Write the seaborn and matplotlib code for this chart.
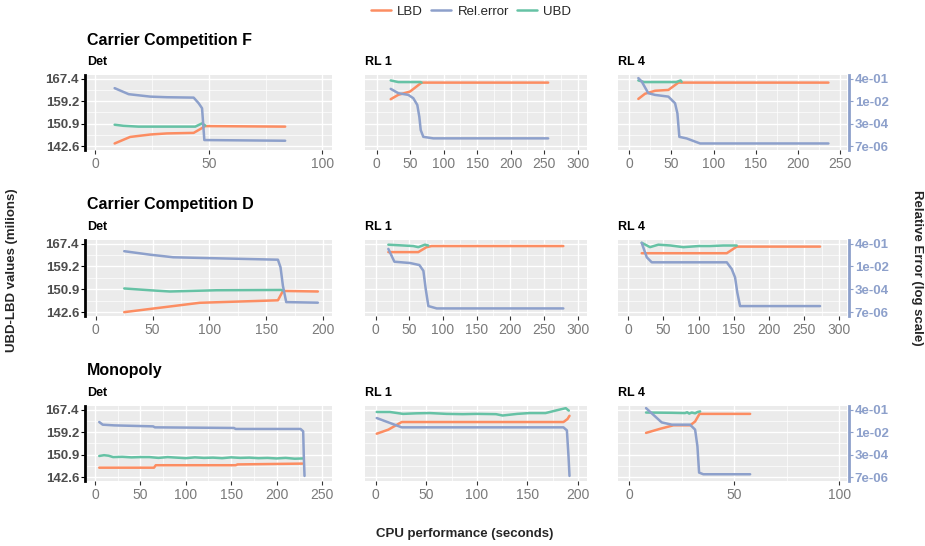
import matplotlib
matplotlib.use("Agg")
import matplotlib.pyplot as plt
import seaborn as sns
import numpy as np
from matplotlib.lines import Line2D
from matplotlib.ticker import NullLocator, FixedLocator, FixedFormatter

# ---------------- data ----------------
ROW_TITLES = ["Carrier Competition F", "Carrier Competition D", "Monopoly"]
COL_TITLES = ["Det", "RL 1", "RL 4"]
SERIES = ["LBD", "Rel.error", "UBD"]
Y_TICKS = [142.6, 150.9, 159.2, 167.4]
ERR_BOTTOM = 7e-06   # rel. error shown at the 142.6 line
ERR_TOP = 4e-01      # rel. error shown at the 167.4 line

# Carrier Competition F
F_DET_X_LBD = [8.5, 15.3, 24.2, 31.5, 43.3, 46.2, 48.4, 83.6]
F_DET_LBD = [143.6, 146.0, 146.9, 147.3, 147.5, 148.9, 150.0, 149.8]
F_DET_X_UBD = [8.5, 12.4, 19.0, 44.0, 47.0, 48.4]
F_DET_UBD = [150.5, 150.1, 149.8, 149.8, 151.0, 150.2]
F_DET_X_ERR = [8.5, 14.7, 24.2, 31.5, 43.3, 45.5, 47.0, 48.0, 83.6]
F_DET_ERR = [0.0875, 0.0328, 0.0221, 0.0200, 0.0188, 0.00753, 0.00333, 1.9e-5, 1.7e-5]

F_RL1_X_LBD = [20.9, 32.2, 49.7, 67.0, 256.0]
F_RL1_LBD = [159.9, 161.5, 162.7, 166.0, 166.0]
F_RL1_X_UBD = [20.9, 32.2, 65.2, 67.0]
F_RL1_UBD = [166.8, 166.2, 166.2, 166.0]
F_RL1_X_ERR = [20.9, 32.2, 47.2, 54.6, 60.6, 63.6, 65.7, 69.6, 84.5, 256.0]
F_RL1_ERR = [0.078, 0.0387, 0.0292, 0.0171, 0.0057, 8.4e-4, 9.6e-5, 3.2e-5, 2.5e-5, 2.5e-5]

F_RL4_X_LBD = [10.7, 18.6, 30.5, 46.3, 58.2, 236.0]
F_RL4_LBD = [160.0, 161.9, 163.0, 163.3, 166.0, 166.0]
F_RL4_X_UBD = [10.7, 17.5, 55.7, 60.8, 62.0]
F_RL4_UBD = [166.8, 166.2, 166.2, 166.8, 166.3]
F_RL4_X_ERR = [10.7, 14.7, 22.5, 30.5, 46.3, 54.2, 57.0, 59.3, 68.0, 83.9, 236.0]
F_RL4_ERR = [0.449, 0.257, 0.0387, 0.0292, 0.0221, 0.00753, 0.00147, 3.2e-5, 2.47e-5, 1.09e-5, 1.09e-5]

# Carrier Competition D
D_DET_X_LBD = [25.1, 91.5, 160.2, 164.6, 195.3]
D_DET_LBD = [142.6, 146.0, 146.9, 150.3, 150.1]
D_DET_X_UBD = [25.1, 47.6, 65.2, 106.1, 163.2, 165.0]
D_DET_UBD = [151.2, 150.55, 150.1, 150.55, 150.66, 150.4]
D_DET_X_ERR = [25.1, 47.6, 68.1, 106.1, 160.2, 162.5, 164.6, 167.5, 195.3]
D_DET_ERR = [0.123, 0.0708, 0.0465, 0.0395, 0.0315, 0.00922, 4.7e-4, 3.5e-5, 3.2e-5]

D_RL1_X_LBD = [18.7, 63.2, 75.5, 83.0, 278.8]
D_RL1_LBD = [164.4, 164.4, 166.2, 166.6, 166.6]
D_RL1_X_UBD = [18.7, 55.8, 63.2, 73.1, 78.0]
D_RL1_UBD = [167.1, 166.6, 166.2, 167.1, 166.8]
D_RL1_X_ERR = [18.7, 27.7, 51.0, 64.8, 70.8, 74.3, 78.2, 90.6, 278.8]
D_RL1_ERR = [0.178, 0.0228, 0.0185, 0.0134, 0.0053, 2.75e-4, 1.86e-5, 1.27e-5, 1.27e-5]

D_RL4_X_LBD = [19.0, 140.0, 154.2, 272.7]
D_RL4_LBD = [164.0, 164.0, 166.4, 166.4]
D_RL4_X_UBD = [19.0, 30.8, 42.7, 60.0, 78.2, 100.0, 116.1, 135.0, 154.2]
D_RL4_UBD = [167.8, 166.2, 167.1, 166.8, 166.2, 166.6, 166.6, 166.8, 166.8]
D_RL4_X_ERR = [19.0, 26.2, 33.3, 140.0, 147.1, 151.8, 155.0, 158.9, 272.7]
D_RL4_ERR = [0.47, 0.0465, 0.0207, 0.0207, 0.007, 0.00183, 1.6e-4, 1.85e-5, 1.85e-5]

# Monopoly
M_DET_X_LBD = [4.7, 65.0, 67.0, 155.0, 157.0, 228.5]
M_DET_LBD = [146.1, 146.1, 147.0, 147.0, 147.3, 147.6]
M_DET_X_UBD = [4.7, 10, 15, 20, 30, 40, 50, 60, 70, 80, 90, 100, 110, 120, 130,
               140, 150, 160, 170, 180, 190, 200, 210, 220, 229]
M_DET_UBD = [150.4, 150.7, 150.5, 150.0, 150.1, 149.9, 150.0, 150.0, 149.7, 150.0,
             149.8, 149.6, 149.9, 149.7, 149.8, 149.6, 149.9, 149.7, 149.8, 149.6,
             149.7, 149.5, 149.7, 149.4, 149.5]
M_DET_X_ERR = [4.7, 8.5, 21.2, 64.0, 66.0, 153.0, 155.0, 226.4, 229.3, 230.0, 230.8]
M_DET_ERR = [0.055, 0.0357, 0.0318, 0.0271, 0.0231, 0.0209, 0.0178, 0.0178, 0.0121, 2.15e-4, 8.6e-6]

M_RL1_X_LBD = [1.0, 12.5, 25.7, 185.7, 189.7, 191.7]
M_RL1_LBD = [158.6, 160.1, 162.9, 162.9, 164.0, 165.2]
M_RL1_X_UBD = [1, 14, 27, 40, 53.5, 70, 86, 100, 119, 125.5, 140, 152, 168, 181, 188, 191]
M_RL1_UBD = [166.6, 166.6, 165.9, 166.1, 166.2, 165.9, 165.8, 165.9, 165.8, 165.3,
             165.9, 166.2, 166.2, 167.4, 168.0, 167.1]
M_RL1_X_ERR = [1.0, 25.7, 185.7, 189.1, 190.7, 191.7]
M_RL1_ERR = [0.105, 0.0231, 0.0231, 0.0142, 2.15e-4, 8.6e-6]

M_RL4_X_LBD = [7.95, 14.6, 21.0, 29.0, 31.3, 33.4, 57.5]
M_RL4_LBD = [158.9, 160.4, 161.7, 161.7, 163.1, 165.9, 165.9]
M_RL4_X_UBD = [7.95, 20.0, 26.5, 27.5, 28.5, 29.7, 31.3, 32.5, 33.7]
M_RL4_UBD = [166.4, 166.3, 166.2, 166.5, 166.0, 166.4, 166.1, 166.6, 166.8]
M_RL4_X_ERR = [7.95, 11.4, 15.4, 20.2, 28.9, 31.3, 32.4, 33.2, 35.2, 57.5]
M_RL4_ERR = [0.526, 0.179, 0.0516, 0.0357, 0.0357, 0.0159, 0.00108, 1.48e-5, 1.13e-5, 1.13e-5]

PANELS = [
    [(F_DET_X_LBD, F_DET_LBD, F_DET_X_ERR, F_DET_ERR, F_DET_X_UBD, F_DET_UBD),
     (F_RL1_X_LBD, F_RL1_LBD, F_RL1_X_ERR, F_RL1_ERR, F_RL1_X_UBD, F_RL1_UBD),
     (F_RL4_X_LBD, F_RL4_LBD, F_RL4_X_ERR, F_RL4_ERR, F_RL4_X_UBD, F_RL4_UBD)],
    [(D_DET_X_LBD, D_DET_LBD, D_DET_X_ERR, D_DET_ERR, D_DET_X_UBD, D_DET_UBD),
     (D_RL1_X_LBD, D_RL1_LBD, D_RL1_X_ERR, D_RL1_ERR, D_RL1_X_UBD, D_RL1_UBD),
     (D_RL4_X_LBD, D_RL4_LBD, D_RL4_X_ERR, D_RL4_ERR, D_RL4_X_UBD, D_RL4_UBD)],
    [(M_DET_X_LBD, M_DET_LBD, M_DET_X_ERR, M_DET_ERR, M_DET_X_UBD, M_DET_UBD),
     (M_RL1_X_LBD, M_RL1_LBD, M_RL1_X_ERR, M_RL1_ERR, M_RL1_X_UBD, M_RL1_UBD),
     (M_RL4_X_LBD, M_RL4_LBD, M_RL4_X_ERR, M_RL4_ERR, M_RL4_X_UBD, M_RL4_UBD)],
]

X_BREAKS = [
    [[0, 50, 100], [0, 50, 100, 150, 200, 250, 300], [0, 50, 100, 150, 200, 250]],
    [[0, 50, 100, 150, 200], [0, 50, 100, 150, 200, 250, 300], [0, 50, 100, 150, 200, 250, 300]],
    [[0, 50, 100, 150, 200, 250], [0, 50, 100, 150, 200], [0, 50, 100]],
]
X_LIMITS = [
    [(-3.8, 104.0), (-17.5, 314.0), (-13.4, 258.0)],
    [(-7.9, 207.3), (-16.0, 314.0), (-14.7, 311.0)],
    [(-9.1, 260.5), (-10.6, 209.0), (-5.4, 103.6)],
]

# ---------------- style ----------------
C_LBD, C_ERR, C_UBD = "#FC8D62", "#8DA0CB", "#66C2A5"
sns.set_theme(style="darkgrid", rc={"axes.facecolor": "#EBEBEB", "grid.color": "white"})
plt.rcParams["font.family"] = ["Liberation Sans", "DejaVu Sans"]

W, H = 925, 546
fig = plt.figure(figsize=(W / 100, H / 100), dpi=100)
fig.patch.set_facecolor("white")

COLS_PX = [(86.7, 331.5), (365.0, 587.0), (618.0, 847.0)]
ROWS_PX = [(75.0, 150.0), (240.0, 316.0), (406.0, 481.0)]
YLIM = (141.2, 168.8)

L0, L1 = np.log10(ERR_BOTTOM), np.log10(ERR_TOP)


def val_to_err(v):
    return 10 ** (L0 + (v - Y_TICKS[0]) * (L1 - L0) / (Y_TICKS[-1] - Y_TICKS[0]))


def minor_breaks(b, lim):
    d = b[1] - b[0]
    ext = [b[0] - d] + list(b) + [b[-1] + d]
    mids = [(ext[i] + ext[i + 1]) / 2 for i in range(len(ext) - 1)]
    return [m for m in mids if lim[0] <= m <= lim[1]]


LW = 1.8
right_axes = []
for r in range(3):
    for c in range(3):
        x0, x1 = COLS_PX[c]
        y0, y1 = ROWS_PX[r]
        ax = fig.add_axes([x0 / W, 1 - y1 / H, (x1 - x0) / W, (y1 - y0) / H])
        ax.set_facecolor("#EBEBEB")
        xl, yl, xe, ye, xu, yu = PANELS[r][c]
        sns.lineplot(x=xl, y=yl, ax=ax, color=C_LBD, linewidth=LW, estimator=None, sort=False)
        sns.lineplot(x=xu, y=yu, ax=ax, color=C_UBD, linewidth=LW, estimator=None, sort=False)
        ax2 = ax.twinx()
        ax2.set_yscale("log")
        sns.lineplot(x=xe, y=ye, ax=ax2, color=C_ERR, linewidth=LW, estimator=None, sort=False)

        lim = X_LIMITS[r][c]
        ax.set_xlim(*lim)
        ax.set_ylim(*YLIM)
        ax2.set_ylim(val_to_err(YLIM[0]), val_to_err(YLIM[1]))
        ax.set_xlabel("")
        ax.set_ylabel("")
        ax2.set_ylabel("")
        ax2.set_xlabel("")

        xb = X_BREAKS[r][c]
        ax.set_xticks(xb)
        ax.set_xticks(minor_breaks(xb, lim), minor=True)
        ax.set_yticks(Y_TICKS)
        ax.set_yticks(minor_breaks(Y_TICKS, YLIM), minor=True)
        ax.grid(True, which="major", color="white", linewidth=1.0)
        ax.grid(True, which="minor", color="white", linewidth=0.5)
        ax2.grid(False)
        ax.tick_params(which="minor", length=0)
        ax.tick_params(axis="x", which="major", bottom=True, length=3, width=0.8,
                       color="#333333", labelsize=10, labelcolor="#7a7a7a", pad=2)
        for s in ax.spines.values():
            s.set_visible(False)
        for s in ax2.spines.values():
            s.set_visible(False)

        if c == 0:
            ax.spines["left"].set_visible(True)
            ax.spines["left"].set_color("black")
            ax.spines["left"].set_linewidth(2.0)
            ax.spines["left"].set_position(("outward", 1.5))
            ax.tick_params(axis="y", which="major", left=True, length=3, width=0.8,
                           color="black", labelsize=9.5, labelcolor="#4d4d4d", pad=1)
            ax.set_yticklabels([f"{v:.1f}" for v in Y_TICKS], fontweight="bold")
        else:
            ax.tick_params(axis="y", which="major", left=False, labelleft=False)

        ax2.yaxis.set_minor_locator(NullLocator())
        if c == 2:
            pos = [val_to_err(v) for v in Y_TICKS]
            ax2.yaxis.set_major_locator(FixedLocator(pos))
            ax2.yaxis.set_major_formatter(FixedFormatter([f"{p:.0e}" for p in pos]))
            ax2.spines["right"].set_visible(True)
            ax2.spines["right"].set_color(C_ERR)
            ax2.spines["right"].set_linewidth(2.0)
            ax2.spines["right"].set_position(("outward", 1.5))
            ax2.tick_params(axis="y", which="major", right=True, length=3, width=0.8,
                            color=C_ERR, labelsize=9.5, labelcolor=C_ERR, pad=1)
            right_axes.append(ax2)
        else:
            ax2.set_yticks([])
            ax2.tick_params(axis="y", right=False, labelright=False)

        # titles
        fig.text(x0 / W, 1 - (y0 - 13) / H, COL_TITLES[c], fontsize=9,
                 fontweight="bold", ha="left", va="center", color="black")
        if c == 0:
            fig.text(x0 / W, 1 - (y0 - 35) / H, ROW_TITLES[r], fontsize=11.5,
                     fontweight="bold", ha="left", va="center", color="black")

fig.text(12 / W, 1 - 270 / H, "UBD-LBD values (milions)", rotation=90,
         fontsize=9.5, fontweight="bold", ha="center", va="center")
fig.text(917 / W, 1 - 268 / H, "Relative Error (log scale)", rotation=270,
         fontsize=9.5, fontweight="bold", ha="center", va="center")
fig.text(465 / W, 1 - 534 / H, "CPU performance (seconds)",
         fontsize=9.5, fontweight="bold", ha="center", va="center")

handles = [Line2D([0], [0], color=col, linewidth=LW) for col in (C_LBD, C_ERR, C_UBD)]
fig.legend(handles, SERIES, loc="center", bbox_to_anchor=(471 / W, 1 - 12 / H), ncol=3,
           frameon=False, fontsize=9.5, handlelength=1.5, handletextpad=0.5,
           columnspacing=0.6)

fig.canvas.draw()
for a2 in right_axes:
    for t in a2.yaxis.get_major_ticks():
        t.label1.set_fontweight("bold")
        t.label2.set_fontweight("bold")

fig.savefig("out.png", dpi=100)
